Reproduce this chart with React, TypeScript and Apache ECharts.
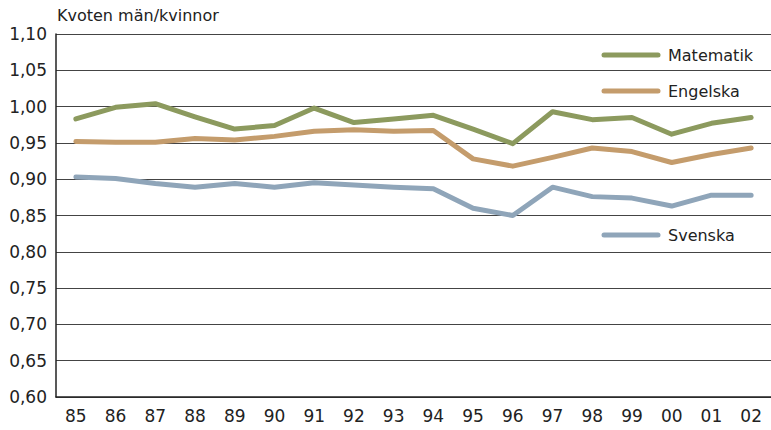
import React, { useEffect, useRef } from "react";
import * as echarts from "echarts";

const years = ["85", "86", "87", "88", "89", "90", "91", "92", "93", "94", "95", "96", "97", "98", "99", "00", "01", "02"];
const matematik = [0.983, 0.999, 1.004, 0.986, 0.969, 0.974, 0.998, 0.978, 0.983, 0.988, 0.969, 0.949, 0.993, 0.982, 0.985, 0.962, 0.977, 0.985];
const engelska = [0.952, 0.951, 0.951, 0.956, 0.954, 0.959, 0.966, 0.968, 0.966, 0.967, 0.928, 0.918, 0.930, 0.943, 0.938, 0.923, 0.934, 0.943];
const svenska = [0.903, 0.901, 0.894, 0.889, 0.894, 0.889, 0.895, 0.892, 0.889, 0.887, 0.860, 0.850, 0.889, 0.876, 0.874, 0.863, 0.878, 0.878];
const seriesNames = ["Matematik", "Engelska", "Svenska"];
const colors = ["#8c9a5e", "#c49c6c", "#8fa5b9"];
const yTitle = "Kvoten män/kvinnor";

const FONT = "'DejaVu Sans', Verdana, sans-serif";

export default function App() {
  const ref = useRef<HTMLDivElement>(null);
  useEffect(() => {
    if (!ref.current) return;
    const chart = echarts.init(ref.current, undefined, { renderer: "svg" });
    const data = [matematik, engelska, svenska];
    const legendY = [55, 91, 235];
    const graphic: any[] = [
      {
        type: "text",
        left: 57,
        top: 7,
        style: { text: yTitle, font: `16px ${FONT}`, fill: "#222" },
      },
    ];
    seriesNames.forEach((n, i) => {
      graphic.push({
        type: "line",
        shape: { x1: 604, y1: legendY[i], x2: 658, y2: legendY[i] },
        style: { stroke: colors[i], lineWidth: 5, lineCap: "round" },
      });
      graphic.push({
        type: "text",
        x: 668,
        y: legendY[i],
        style: { text: n, font: `16px ${FONT}`, fill: "#222", textVerticalAlign: "middle" },
      });
    });
    chart.setOption({
      animation: false,
      backgroundColor: "#ffffff",
      grid: { left: 56, right: 0, top: 34, bottom: 33, containLabel: false },
      xAxis: {
        type: "category",
        data: years,
        boundaryGap: true,
        axisLine: { show: true, lineStyle: { color: "#222", width: 1.5 } },
        axisTick: { show: false },
        axisLabel: { color: "#222", fontSize: 17, fontFamily: FONT, margin: 10 },
      },
      yAxis: {
        type: "value",
        min: 0.6,
        max: 1.1,
        interval: 0.05,
        axisLine: { show: true, lineStyle: { color: "#222", width: 1.5 } },
        axisTick: { show: false },
        splitLine: { show: true, lineStyle: { color: "#444", width: 1 } },
        axisLabel: {
          color: "#222",
          fontSize: 17,
          fontFamily: FONT,
          margin: 9,
          formatter: (v: number) => v.toFixed(2).replace(".", ","),
        },
      },
      series: seriesNames.map((n, i) => ({
        name: n,
        type: "line",
        data: data[i],
        symbol: "none",
        lineStyle: { color: colors[i], width: 5, cap: "round", join: "round" },
        itemStyle: { color: colors[i] },
      })),
      graphic,
    });
    return () => chart.dispose();
  }, []);
  return (
    <div
      ref={ref}
      style={{ position: "absolute", left: 0, top: 0, width: 771, height: 430 }}
    />
  );
}
